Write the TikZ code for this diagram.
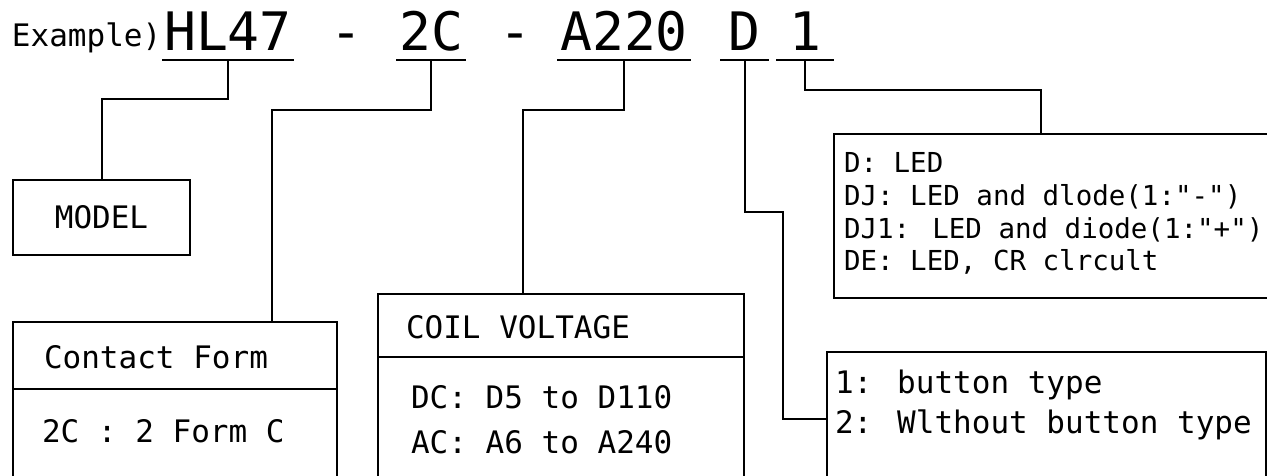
\documentclass[tikz,border=0pt]{standalone}
\usepackage{fontspec}
\newfontfamily\cadfont{DejaVu Sans Mono}
\newcommand\bodyfont{\cadfont\fontsize{31}{36}\selectfont}
\newcommand\smallbodyfont{\cadfont\fontsize{27.5}{32}\selectfont}
\newcommand\bigfont{\cadfont\fontsize{53}{60}\selectfont}
\begin{document}
\begin{tikzpicture}[x=1pt,y=-1pt,line width=2pt,line join=miter,
  body/.style={font=\bodyfont,inner sep=0pt,anchor=base west},
  ledline/.style={font=\smallbodyfont,inner sep=0pt,anchor=base west},
  code/.style={font=\bigfont,inner sep=0pt,text height=37pt,text depth=8pt,anchor=south},
  box/.style={draw,line width=2pt,inner sep=0pt,anchor=north west,font=\bodyfont},
  link/.style={draw,line width=2pt}]
\useasboundingbox (0,0) rectangle (1267,476);
\fill[white] (0,0) rectangle (1267,476);
\clip (0,0) rectangle (1267,476);

% header
\node[body] (ex) at (11,47) {Example)};
\node[code,minimum width=130pt] (hl) at (228,60) {HL47};
\node[code] (dash1) at (346,60) {-};
\node[code,minimum width=68pt] (c2) at (431,60) {2C};
\node[code] (dash2) at (515,60) {-};
\node[code,minimum width=132pt] (a220) at (624,60) {A220};
\node[code,minimum width=47pt] (dd) at (744.5,60) {D};
\node[code,minimum width=56pt] (one) at (805,60) {1};
\foreach \n in {hl,c2,a220,dd,one}{\draw (\n.south west) -- (\n.south east);}

% boxes
\node[box,minimum width=177pt,minimum height=75pt] (model) at (12,179) {MODEL};

\node[box,minimum width=324pt,minimum height=180pt] (contact) at (12,321) {};
\draw ([yshift=-68pt]contact.north west) -- ([yshift=-68pt]contact.north east);
\node[body] (cftitle) at (43,368) {Contact Form};
\node[body] (cfline) at (41,442) {2C : 2 Form C};

\node[box,minimum width=366pt,minimum height=200pt] (coil) at (377,293) {};
\draw ([yshift=-64pt]coil.north west) -- ([yshift=-64pt]coil.north east);
\node[body] (cvtitle) at (405,338) {COIL VOLTAGE};
\node[body] (cvdc) at (410,408) {DC: D5 to D110};
\node[body] (cvac) at (410,453) {AC: A6 to A240};

\node[box,minimum width=460pt,minimum height=164pt] (dled) at (833,133) {};
\node[ledline] (l1) at (843,173) {D: LED};
\node[ledline] (l2) at (843,205.5) {DJ: LED and dlode(1:"-")};
\node[ledline] (l3) at (843,238) {DJ1: LED and diode(1:"+")};
\node[ledline] (l4) at (843,270) {DE: LED, CR clrcult};

\node[box,minimum width=439pt,minimum height=150pt] (button) at (826,351) {};
\node[body] (b1) at (834,393) {1: button type};
\node[body] (b2) at (834,433) {2: Wlthout button type};

% connectors
\draw[link] (hl.south) -- ++(0,39) -| (model.north);
\draw[link] (c2.south) -- ++(0,50) -| ([xshift=260pt]contact.north west);
\draw[link] (a220.south) -- ++(0,50) -| ([xshift=146pt]coil.north west);
\draw[link] (dd.south) |- ++(38,152) |- ([yshift=-68pt]button.north west);
\draw[link] (one.south) -- ++(0,30) -| ([xshift=208pt]dled.north west);
\end{tikzpicture}
\end{document}
